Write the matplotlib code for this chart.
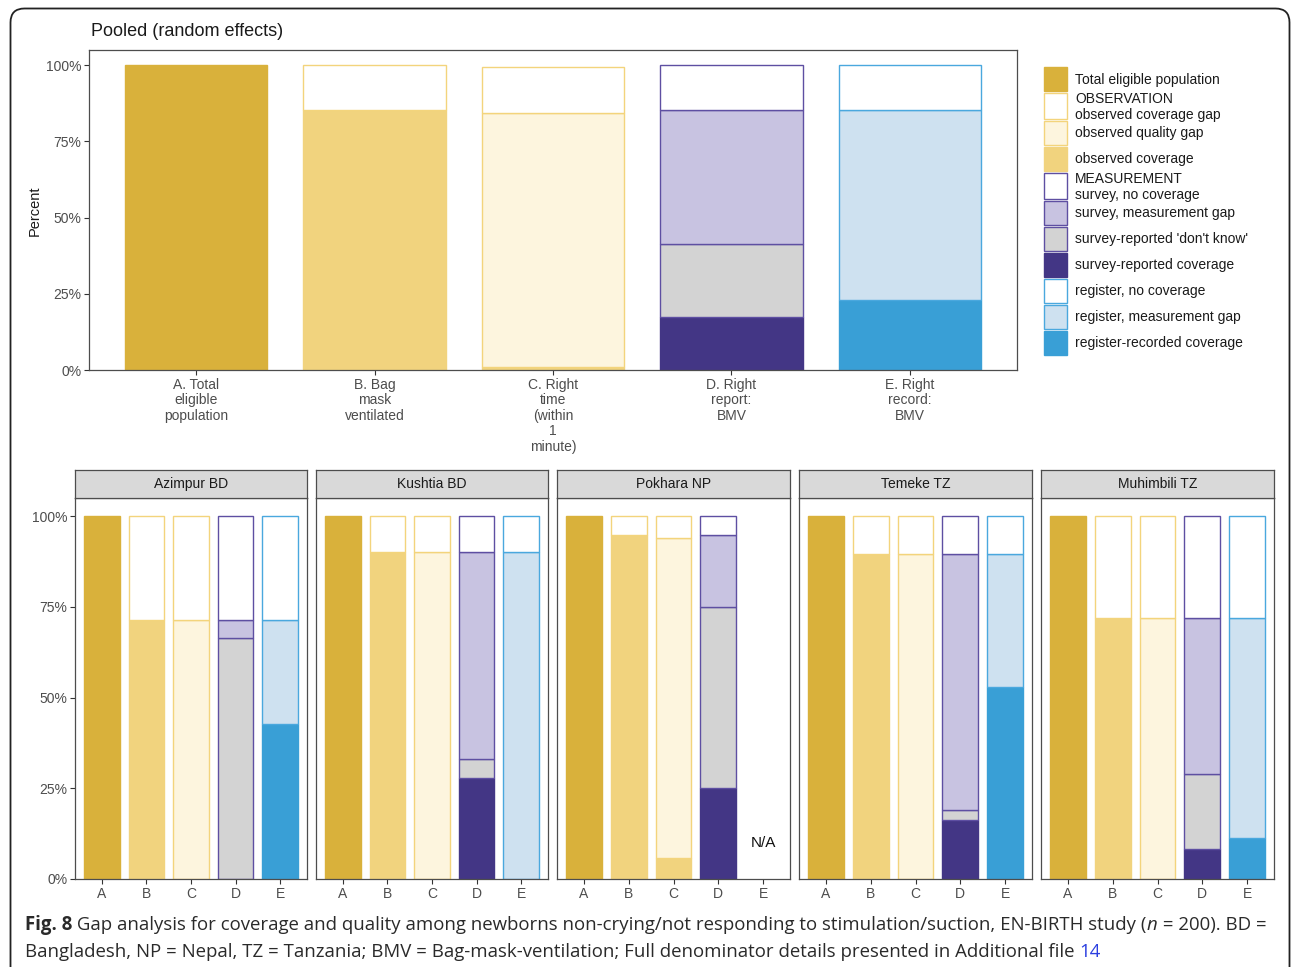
import numpy as np
import matplotlib
matplotlib.use("Agg")
import matplotlib.pyplot as plt
from matplotlib.patches import Rectangle, FancyBboxPatch
from matplotlib.transforms import IdentityTransform

plt.rcParams['font.family'] = ['Liberation Sans', 'DejaVu Sans']

W, H = 1292, 967
fig = plt.figure(figsize=(W / 100, H / 100), dpi=100)

# ---------------- data ----------------
sites = ["Pooled", "Azimpur BD", "Kushtia BD", "Pokhara NP", "Temeke TZ", "Muhimbili TZ"]
short_labels = ["A", "B", "C", "D", "E"]
pooled_labels = ["A. Total\neligible\npopulation", "B. Bag\nmask\nventilated",
                 "C. Right\ntime\n(within\n1\nminute)", "D. Right\nreport:\nBMV",
                 "E. Right\nrecord:\nBMV"]
title = "Pooled (random effects)"
y_ticks = [0, 25, 50, 75, 100]
y_ticklabels = ["0%", "25%", "50%", "75%", "100%"]

a_total = [100, 100, 100, 100, 100, 100]
b_coverage = [85.2, 71.4, 90.1, 94.9, 89.7, 71.9]
b_gap = [14.8, 28.6, 9.9, 5.1, 10.3, 28.1]
c_coverage = [1.0, 0.0, 0.0, 5.8, 0.0, 0.0]
c_quality_gap = [83.3, 71.4, 90.0, 88.2, 89.5, 71.8]
c_gap = [15.2, 28.6, 10.0, 6.0, 10.5, 28.2]
d_coverage = [17.4, 0.0, 27.7, 25.0, 16.2, 8.2]
d_dont_know = [23.9, 66.5, 5.5, 49.9, 2.9, 20.8]
d_meas_gap = [43.9, 4.9, 56.8, 19.8, 70.4, 42.8]
d_no_cov = [14.8, 28.6, 10.0, 5.3, 10.5, 28.2]
e_coverage = [23.0, 42.8, 0.0, np.nan, 52.8, 11.2]
e_meas_gap = [62.2, 28.6, 90.0, np.nan, 36.7, 60.6]
e_no_cov = [14.8, 28.6, 10.0, np.nan, 10.5, 28.2]

categories = ["Total eligible population", "OBSERVATION\nobserved coverage gap",
              "observed quality gap", "observed coverage",
              "MEASUREMENT\nsurvey, no coverage", "survey, measurement gap",
              "survey-reported 'don't know'", "survey-reported coverage",
              "register, no coverage", "register, measurement gap",
              "register-recorded coverage"]

caption_line1 = [("Fig. 8", "bold", "normal", None),
                 (" Gap analysis for coverage and quality among newborns non-crying/not responding to "
                  "stimulation/suction, EN-BIRTH study (", "normal", "normal", None),
                 ("n", "normal", "italic", None),
                 (" = 200). BD =", "normal", "normal", None)]
caption_line2 = [("Bangladesh, NP = Nepal, TZ = Tanzania; BMV = Bag-mask-ventilation; Full denominator "
                  "details presented in Additional file ", "normal", "normal", None),
                 ("14", "normal", "normal", "#2B3FE0")]

# ---------------- styles ----------------
fills = ['#D9B13B', '#FFFFFF', '#FDF5DE', '#F1D37E', '#FFFFFF', '#C8C3E1',
         '#D3D3D3', '#433685', '#FFFFFF', '#CEE1F0', '#399FD6']
edges = ['#D9B13B', '#F3D47C', '#F3D47C', '#F1D37E', '#5E4FA2', '#5E4FA2',
         '#5E4FA2', '#433685', '#4AA8DE', '#4AA8DE', '#399FD6']

# stacks per indicator (bottom -> top): (category index, values)
stacks = [
    [(0, a_total)],
    [(3, b_coverage), (1, b_gap)],
    [(3, c_coverage), (2, c_quality_gap), (1, c_gap)],
    [(7, d_coverage), (6, d_dont_know), (5, d_meas_gap), (4, d_no_cov)],
    [(10, e_coverage), (9, e_meas_gap), (8, e_no_cov)],
]

AXC = '#4D4D4D'
TICKC = '#4D4D4D'


def draw_site(ax, si):
    for k, layers in enumerate(stacks):
        pos = k + 1
        bottom = 0.0
        for cat, vals in layers:
            v = vals[si]
            if v is None or np.isnan(v):
                continue
            if v > 0:
                ax.bar(pos, v, bottom=bottom, width=0.8, color=fills[cat],
                       edgecolor=edges[cat], linewidth=1.0, zorder=2)
            bottom += v


def style_axes(ax):
    ax.set_xlim(0.4, 5.6)
    ax.set_ylim(0, 105)
    for s in ax.spines.values():
        s.set_color(AXC)
        s.set_linewidth(0.9)
    ax.tick_params(axis='both', length=3.5, width=0.8, color='#333333',
                   labelcolor=TICKC, labelsize=10, pad=2)


# ---------------- top pooled panel ----------------
ax0 = fig.add_axes([89 / W, 1 - 370 / H, 928 / W, 320 / H])
draw_site(ax0, 0)
style_axes(ax0)
ax0.set_yticks(y_ticks)
ax0.set_yticklabels(y_ticklabels)
ax0.set_xticks(range(1, 6))
ax0.set_xticklabels(pooled_labels, linespacing=1.14)
fig.text(91 / W, 1 - 32 / H, title, fontsize=13, ha='left', va='center', color='#1A1A1A')
fig.text(35 / W, 1 - 211 / H, "Percent", fontsize=10.5, rotation=90, ha='center',
         va='center', color='#1A1A1A')

# ---------------- legend (drawn manually) ----------------
lax = fig.add_axes([1035 / W, 1 - 365 / H, 255 / W, 305 / H])
lax.set_xlim(1035, 1290)
lax.set_ylim(365, 60)
lax.axis('off')
top = 66.0
for i, lab in enumerate(categories):
    lines = lab.split("\n")
    h = 26.0 if len(lines) == 1 else 28.0
    lax.add_patch(Rectangle((1043.5, top + 0.8), 23, h - 1.6, facecolor=fills[i],
                            edgecolor=edges[i], linewidth=1.0))
    c = top + h / 2
    if len(lines) == 1:
        lax.text(1075, c + 0.5, lines[0], fontsize=10, va='center', ha='left', color='#1A1A1A')
    else:
        lax.text(1075, c - 7.0, lines[0], fontsize=10, va='center', ha='left', color='#1A1A1A')
        lax.text(1075, c + 9.0, lines[1], fontsize=10, va='center', ha='left', color='#1A1A1A')
    top += h

# ---------------- facet panels ----------------
panel_x = [(75, 307), (316, 548), (557, 790), (799, 1032), (1041, 1274)]
for p, (x0, x1) in enumerate(panel_x):
    si = p + 1
    ax = fig.add_axes([x0 / W, 1 - 879 / H, (x1 - x0) / W, (879 - 498) / H])
    draw_site(ax, si)
    style_axes(ax)
    ax.set_xticks(range(1, 6))
    ax.set_xticklabels(short_labels)
    ax.set_yticks(y_ticks)
    if p == 0:
        ax.set_yticklabels(y_ticklabels)
    else:
        ax.tick_params(axis='y', left=False, labelleft=False)
    # N/A marker for missing indicators
    for k, layers in enumerate(stacks):
        vals = [l[1][si] for l in layers]
        if all(np.isnan(v) for v in vals):
            ax.text(k + 1, 10, "N/A", fontsize=11, ha='center', va='center', color='#111111')
    sax = fig.add_axes([x0 / W, 1 - 498 / H, (x1 - x0) / W, 28 / H])
    sax.set_facecolor('#D9D9D9')
    sax.set_xticks([])
    sax.set_yticks([])
    for s in sax.spines.values():
        s.set_color(AXC)
        s.set_linewidth(0.9)
    sax.text(0.5, 0.5, sites[si], transform=sax.transAxes, ha='center', va='center',
             fontsize=10, color='#1A1A1A')

# ---------------- outer frame ----------------
frame = FancyBboxPatch((10.5, -40), 1279, H - 8.5 + 40,
                       boxstyle="round,pad=0,rounding_size=14",
                       transform=IdentityTransform(), fill=False,
                       edgecolor='#222222', linewidth=1.3)
fig.add_artist(frame)

# ---------------- caption ----------------
cap_family = ['Open Sans', 'DejaVu Sans']
renderer = fig.canvas.get_renderer()


def run_width(s, weight, style, size):
    t1 = fig.text(0, 0, s + "|", fontsize=size, fontweight=weight, fontstyle=style,
                  family=cap_family)
    t2 = fig.text(0, 0, "|", fontsize=size, fontweight=weight, fontstyle=style,
                  family=cap_family)
    w = t1.get_window_extent(renderer).width - t2.get_window_extent(renderer).width
    t1.remove()
    t2.remove()
    return w


base = 10.0
tot = sum(run_width(s, wt, st, base) for s, wt, st, c in caption_line1)
cap_size = base * 1243.0 / tot


def draw_line(runs, x_px, base_px):
    x = x_px
    for s, wt, st, c in runs:
        fig.text(x / W, 1 - base_px / H, s, fontsize=cap_size, fontweight=wt,
                 fontstyle=st, family=cap_family,
                 color=c or '#2A2A2A', ha='left', va='baseline')
        x += run_width(s, wt, st, cap_size)


draw_line(caption_line1, 25, 930)
draw_line(caption_line2, 25, 957)

fig.savefig("out.png", dpi=100)
